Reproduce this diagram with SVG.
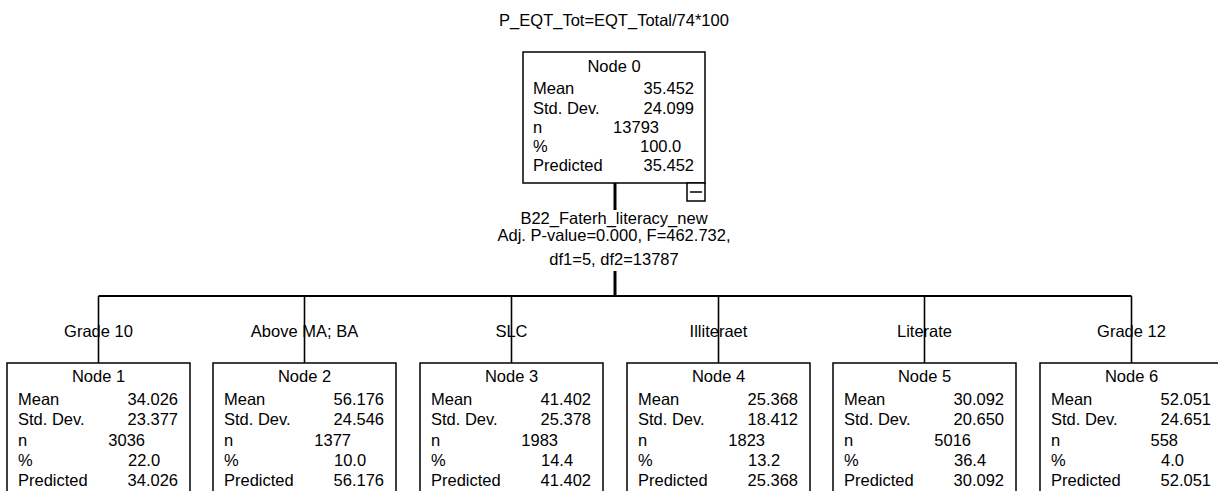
<svg xmlns="http://www.w3.org/2000/svg" width="1218" height="491" viewBox="0 0 1218 491">
<style>
text{font-family:"Liberation Sans",Arial,sans-serif;font-size:16.5px;fill:#000}
.c{text-anchor:middle}
.r{text-anchor:end}
.box{fill:#fff;stroke:#000;stroke-width:1.5}
.ln{stroke:#000;fill:none}
</style>
<rect width="1218" height="491" fill="#fff"/>
<text class="c" x="614" y="26">P_EQT_Tot=EQT_Total/74*100</text>
<g id="connectors">
<line class="ln" x1="615" y1="183" x2="615" y2="210" stroke-width="3"/>
<line class="ln" x1="615" y1="271" x2="615" y2="296" stroke-width="3"/>
<line class="ln" x1="98.5" y1="296" x2="1131.5" y2="296" stroke-width="2"/>
<line class="ln" x1="98.5" y1="296" x2="98.5" y2="363" stroke-width="1.6"/>
<line class="ln" x1="304.5" y1="296" x2="304.5" y2="363" stroke-width="1.6"/>
<line class="ln" x1="511.5" y1="296" x2="511.5" y2="363" stroke-width="1.6"/>
<line class="ln" x1="718.5" y1="296" x2="718.5" y2="363" stroke-width="1.6"/>
<line class="ln" x1="924.5" y1="296" x2="924.5" y2="363" stroke-width="1.6"/>
<line class="ln" x1="1131.5" y1="296" x2="1131.5" y2="363" stroke-width="1.6"/>
<text class="c" x="614" y="224">B22_Faterh_literacy_new</text>
<text class="c" x="614" y="241">Adj. P-value=0.000, F=462.732,</text>
<text class="c" x="614" y="264.5">df1=5, df2=13787</text>
<text class="c" x="98.5" y="337">Grade 10</text>
<text class="c" x="304.5" y="337">Above MA; BA</text>
<text class="c" x="511.5" y="337">SLC</text>
<text class="c" x="718.5" y="337">Illiteraet</text>
<text class="c" x="924.5" y="337">Literate</text>
<text class="c" x="1131.5" y="337">Grade 12</text>
</g>
<g id="node0">
<rect class="box" x="523" y="52" width="182" height="131"/>
<text class="c" x="614" y="72">Node 0</text>
<text x="533" y="94">Mean</text><text class="r" x="694" y="94">35.452</text>
<text x="533" y="113.5">Std. Dev.</text><text class="r" x="694" y="113.5">24.099</text>
<text x="533" y="132.7">n</text><text class="r" x="659" y="132.7">13793</text>
<text x="533" y="151.9">%</text><text x="640" y="151.9">100.0</text>
<text x="533" y="171">Predicted</text><text class="r" x="694" y="171">35.452</text>
<rect class="box" x="687" y="183" width="18" height="18"/>
<line class="ln" x1="690" y1="192" x2="702" y2="192" stroke-width="1.5"/>
</g>
<g id="node1">
<rect class="box" x="7" y="363" width="183" height="140"/>
<text class="c" x="98.5" y="382">Node 1</text>
<text x="18" y="404.5">Mean</text><text class="r" x="178" y="404.5">34.026</text>
<text x="18" y="425">Std. Dev.</text><text class="r" x="178" y="425">23.377</text>
<text x="18" y="445.5">n</text><text class="r" x="145" y="445.5">3036</text>
<text x="18" y="465.5">%</text><text x="128" y="465.5">22.0</text>
<text x="18" y="485.5">Predicted</text><text class="r" x="178" y="485.5">34.026</text>
</g>
<g id="node2">
<rect class="box" x="213" y="363" width="183" height="140"/>
<text class="c" x="304.5" y="382">Node 2</text>
<text x="224" y="404.5">Mean</text><text class="r" x="384" y="404.5">56.176</text>
<text x="224" y="425">Std. Dev.</text><text class="r" x="384" y="425">24.546</text>
<text x="224" y="445.5">n</text><text class="r" x="351" y="445.5">1377</text>
<text x="224" y="465.5">%</text><text x="334" y="465.5">10.0</text>
<text x="224" y="485.5">Predicted</text><text class="r" x="384" y="485.5">56.176</text>
</g>
<g id="node3">
<rect class="box" x="420" y="363" width="183" height="140"/>
<text class="c" x="511.5" y="382">Node 3</text>
<text x="431" y="404.5">Mean</text><text class="r" x="591" y="404.5">41.402</text>
<text x="431" y="425">Std. Dev.</text><text class="r" x="591" y="425">25.378</text>
<text x="431" y="445.5">n</text><text class="r" x="558" y="445.5">1983</text>
<text x="431" y="465.5">%</text><text x="541" y="465.5">14.4</text>
<text x="431" y="485.5">Predicted</text><text class="r" x="591" y="485.5">41.402</text>
</g>
<g id="node4">
<rect class="box" x="627" y="363" width="183" height="140"/>
<text class="c" x="718.5" y="382">Node 4</text>
<text x="638" y="404.5">Mean</text><text class="r" x="798" y="404.5">25.368</text>
<text x="638" y="425">Std. Dev.</text><text class="r" x="798" y="425">18.412</text>
<text x="638" y="445.5">n</text><text class="r" x="765" y="445.5">1823</text>
<text x="638" y="465.5">%</text><text x="748" y="465.5">13.2</text>
<text x="638" y="485.5">Predicted</text><text class="r" x="798" y="485.5">25.368</text>
</g>
<g id="node5">
<rect class="box" x="833" y="363" width="183" height="140"/>
<text class="c" x="924.5" y="382">Node 5</text>
<text x="844" y="404.5">Mean</text><text class="r" x="1004" y="404.5">30.092</text>
<text x="844" y="425">Std. Dev.</text><text class="r" x="1004" y="425">20.650</text>
<text x="844" y="445.5">n</text><text class="r" x="971" y="445.5">5016</text>
<text x="844" y="465.5">%</text><text x="954" y="465.5">36.4</text>
<text x="844" y="485.5">Predicted</text><text class="r" x="1004" y="485.5">30.092</text>
</g>
<g id="node6">
<rect class="box" x="1040" y="363" width="183" height="140"/>
<text class="c" x="1131.5" y="382">Node 6</text>
<text x="1051" y="404.5">Mean</text><text class="r" x="1211" y="404.5">52.051</text>
<text x="1051" y="425">Std. Dev.</text><text class="r" x="1211" y="425">24.651</text>
<text x="1051" y="445.5">n</text><text class="r" x="1178" y="445.5">558</text>
<text x="1051" y="465.5">%</text><text x="1161" y="465.5">4.0</text>
<text x="1051" y="485.5">Predicted</text><text class="r" x="1211" y="485.5">52.051</text>
</g>
</svg>
